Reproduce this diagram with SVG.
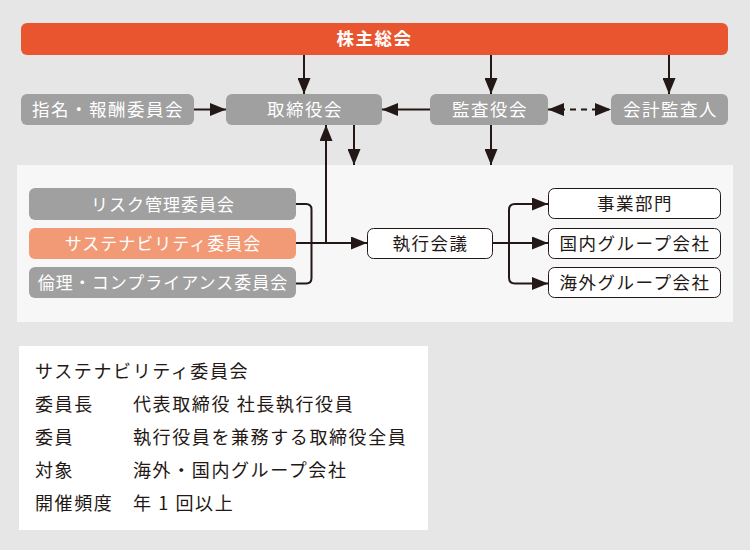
<svg xmlns="http://www.w3.org/2000/svg" width="750" height="550" viewBox="0 0 750 550">
<style>
text{font-family:"Noto Sans CJK JP","Noto Sans",sans-serif;font-size:17.5px;letter-spacing:1.5px}
.g rect{fill:#a0a0a0}
.g text,.o text{fill:#fff;text-anchor:middle}
.c text{font-size:17px;letter-spacing:1px}
.w rect{fill:#fff;stroke:#231815;stroke-width:1}
.w text{fill:#231815;text-anchor:middle}
.ln{fill:none;stroke:#231815;stroke-width:2}
.info text{fill:#231815;font-size:18px;letter-spacing:1.6px}
</style>
<defs>
<marker id="ah" markerUnits="userSpaceOnUse" markerWidth="16" markerHeight="13" refX="16" refY="6.5" orient="auto-start-reverse">
<path d="M0,0 L16,6.5 L0,13 z" fill="#231815"/>
</marker>
</defs>
<rect x="0" y="0" width="750" height="550" fill="#e6e6e6"/>
<rect x="17" y="165" width="716" height="157" fill="#f7f7f7"/>
<rect x="19" y="346" width="409" height="184" fill="#fff"/>

<g id="connectors">
<line class="ln" x1="304" y1="55" x2="304" y2="94" marker-end="url(#ah)"/>
<line class="ln" x1="491" y1="55" x2="491" y2="94" marker-end="url(#ah)"/>
<line class="ln" x1="669" y1="55" x2="669" y2="94" marker-end="url(#ah)"/>
<line class="ln" x1="194" y1="109.5" x2="226" y2="109.5" marker-end="url(#ah)"/>
<line class="ln" x1="430" y1="109.5" x2="382" y2="109.5" marker-end="url(#ah)"/>
<line class="ln" x1="548" y1="109.5" x2="611" y2="109.5" stroke-dasharray="6,5" marker-start="url(#ah)" marker-end="url(#ah)"/>
<line class="ln" x1="354" y1="125" x2="354" y2="165" marker-end="url(#ah)"/>
<line class="ln" x1="491" y1="125" x2="491" y2="165" marker-end="url(#ah)"/>
<path class="ln" d="M296,204 H306 Q311.5,204 311.5,209.5 V278 Q311.5,283.5 306,283.5 H296"/>
<line class="ln" x1="296" y1="243" x2="367" y2="243" marker-end="url(#ah)"/>
<line class="ln" x1="326" y1="243" x2="326" y2="125" marker-end="url(#ah)"/>
<line class="ln" x1="493" y1="243" x2="548" y2="243" marker-end="url(#ah)"/>
<path class="ln" d="M548,204 H515 Q509,204 509,210 V277.5 Q509,283.5 515,283.5 H548" marker-start="url(#ah)" marker-end="url(#ah)"/>
</g>

<g id="shareholders" class="o"><rect x="21" y="23" width="707" height="32" rx="6" fill="#e9552f"/><text x="374.5" y="45" font-weight="bold">株主総会</text></g>
<g id="nomination" class="g"><rect x="21" y="94" width="173" height="31" rx="6"/><text x="108" y="116">指名・報酬委員会</text></g>
<g id="board" class="g"><rect x="226" y="94" width="156" height="31" rx="6"/><text x="305" y="116">取締役会</text></g>
<g id="auditors" class="g"><rect x="430" y="94" width="118" height="31" rx="6"/><text x="490" y="116">監査役会</text></g>
<g id="accounting" class="g"><rect x="611" y="94" width="117" height="31" rx="6"/><text x="670.5" y="116">会計監査人</text></g>

<g id="risk" class="g c"><rect x="29" y="188" width="267" height="32" rx="6"/><text x="163" y="210.5">リスク管理委員会</text></g>
<g id="sustain" class="g c"><rect x="29" y="228" width="267" height="31" rx="6" style="fill:#f29a76"/><text x="163" y="249.5">サステナビリティ委員会</text></g>
<g id="ethics" class="g c"><rect x="29" y="267" width="267" height="31" rx="6"/><text x="163" y="288.5">倫理・コンプライアンス委員会</text></g>

<g id="exec" class="w"><rect x="367.5" y="228.5" width="125" height="30" rx="6"/><text x="430.5" y="249.5">執行会議</text></g>
<g id="business" class="w"><rect x="548.5" y="188.5" width="172" height="30" rx="6"/><text x="635" y="210">事業部門</text></g>
<g id="domestic" class="w"><rect x="548.5" y="228.5" width="172" height="30" rx="6"/><text x="635" y="249.5">国内グループ会社</text></g>
<g id="overseas" class="w"><rect x="548.5" y="267.5" width="172" height="30" rx="6"/><text x="635" y="288.5">海外グループ会社</text></g>

<g id="info" class="info">
<text x="35" y="378">サステナビリティ委員会</text>
<text x="35" y="411">委員長</text><text x="133" y="411">代表取締役 社長執行役員</text>
<text x="35" y="444">委員</text><text x="133" y="444">執行役員を兼務する取締役全員</text>
<text x="35" y="477">対象</text><text x="133" y="477">海外・国内グループ会社</text>
<text x="35" y="510">開催頻度</text><text x="133" y="510">年 1 回以上</text>
</g>
</svg>
